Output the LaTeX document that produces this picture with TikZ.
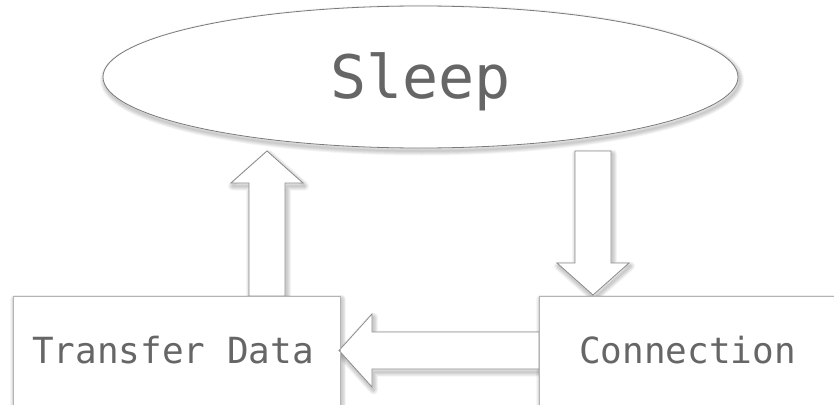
\documentclass[tikz,border=0pt]{standalone}
\usepackage{fontspec}
\setmonofont{DejaVu Sans Mono}
\usetikzlibrary{shapes.geometric}
\definecolor{inkgray}{HTML}{666666}
\definecolor{ellline}{HTML}{7A7A7A}
\definecolor{boxline}{HTML}{B4B4B4}
\definecolor{arrline}{HTML}{8C8C8C}
\tikzset{
  statebox/.style={draw=boxline,line width=0.8pt,fill=white,rectangle,inner sep=0pt,anchor=north west},
  boxlabel/.style={font=\ttfamily\fontsize{36}{36}\selectfont,text=inkgray,anchor=base,inner sep=0pt},
  blockarrow/.style={draw=arrline,line width=0.8pt,fill=white,line join=miter},
  shadelayer/.style={draw=black,draw opacity=0.035,line width=#1,line join=round,shift={(1.5,3)}}
}
% soft shadow: a stack of wide, faint strokes of the outline
\newcommand\softshade[1]{%
  \foreach \w in {1.5,3,4.5,6,7.5,9}{\path[shadelayer=\w pt] #1;}}
\begin{document}
\begin{tikzpicture}[x=1pt,y=-1pt]
\useasboundingbox (0,0) rectangle (834,404);
\clip (0,0) rectangle (834,404);
\fill[white] (0,0) rectangle (834,404);

% shadows
\softshade{(420.5,77) ellipse [x radius=317.5,y radius=71]}
\softshade{(13,296) rectangle (340,436)}
\softshade{(539,296) rectangle (836,436)}
\softshade{(249,296) -- (249,183) -- (231,183) -- (267,151) -- (303,183) -- (285,183) -- (285,296) -- cycle}
\softshade{(575,151) -- (575,263) -- (557,263) -- (593,295) -- (629,263) -- (611,263) -- (611,151) -- cycle}
\softshade{(539,332) -- (372,332) -- (372,314) -- (339,350.5) -- (372,387) -- (372,369) -- (539,369) -- cycle}

% states
\node[ellipse,draw=ellline,line width=0.8pt,fill=white,
      minimum width=635pt,minimum height=142pt,inner sep=0pt,
      font=\ttfamily\fontsize{60}{60}\selectfont,text=inkgray,
      text height=43.7pt,text depth=0pt] (sleep) at (420.5,77) {Sleep};

\node[statebox,minimum width=327pt,minimum height=140pt] (transfer) at (13,296) {};
\node[statebox,minimum width=297pt,minimum height=140pt] (connection) at (539,296) {};

\node[boxlabel] (transferlbl) at (173,363) {Transfer Data};
\node[boxlabel] (connectionlbl) at (687.5,363) {Connection};

% block arrows between the states
\coordinate (upbase) at (267,296);
\coordinate (uptip) at (267,151);
\draw[blockarrow] (upbase) ++(-18,0) -- ++(0,-113) -- ++(-18,0) -- (uptip)
   -- ++(36,32) -- ++(-18,0) -- ++(0,113) -- cycle;

\coordinate (downbase) at (593,151);
\coordinate (downtip) at (593,295);
\draw[blockarrow] (downbase) ++(-18,0) -- ++(0,112) -- ++(-18,0) -- (downtip)
   -- ++(36,-32) -- ++(-18,0) -- ++(0,-112) -- cycle;

\coordinate (leftbase) at (539,350.5);
\coordinate (lefttip) at (339,350.5);
\draw[blockarrow] (leftbase) ++(0,-18.5) -- (372,332) -- (372,314) -- (lefttip)
   -- (372,387) -- (372,369) -- (539,369) -- cycle;

% redraw the box edges the arrows meet
\draw[boxline,line width=0.8pt] (transfer.north west) -- (transfer.north east) -- (transfer.south east);
\draw[boxline,line width=0.8pt] (connection.south west) -- (connection.north west) -- (connection.north east);
\end{tikzpicture}
\end{document}
